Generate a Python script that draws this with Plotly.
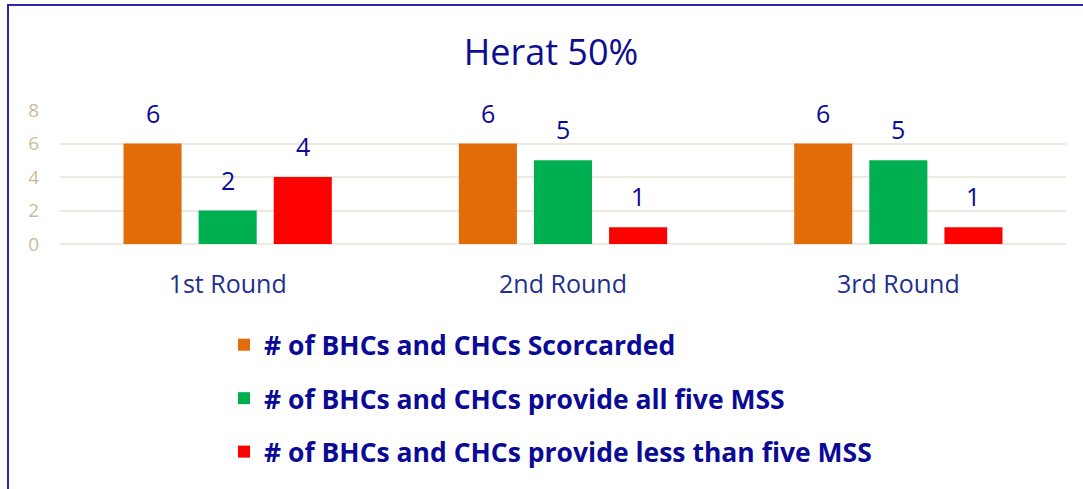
import plotly.graph_objects as go

categories = ["1st Round", "2nd Round", "3rd Round"]
series_names = [
    "# of BHCs and CHCs Scorcarded",
    "# of BHCs and CHCs provide all five MSS",
    "# of BHCs and CHCs provide less than five MSS",
]
scorecarded = [6, 6, 6]
all_five = [2, 5, 5]
less_than_five = [4, 1, 1]
series_values = [scorecarded, all_five, less_than_five]
series_colors = ["#E36C0A", "#00B050", "#FF0000"]
y_ticks = [0, 2, 4, 6, 8]

NAVY = "#0a0a96"
FONT = "Open Sans"

fig = go.Figure()
for i, (name, vals, col) in enumerate(zip(series_names, series_values, series_colors)):
    fig.add_trace(go.Bar(
        x=categories, y=vals, name=name, marker=dict(color=col, line=dict(width=0)),
        legendgroup=f"g{i}", hoverinfo="skip",
    ))

# data labels placed on the bars' positions
slot_px = 75
for i, vals in enumerate(series_values):
    for c, v in zip(categories, vals):
        fig.add_annotation(x=c, y=v, text=str(v), showarrow=False, xref="x", yref="y",
                           xshift=(i - 1) * slot_px, yshift=31, yanchor="middle",
                           font=dict(family=FONT, size=25, color=NAVY))

fig.update_layout(
    width=1083, height=489,
    paper_bgcolor="white", plot_bgcolor="white",
    margin=dict(l=60, r=17, t=110, b=245, autoexpand=False),
    barmode="group", bargap=0.328, bargroupgap=0.227,
    title=dict(text="Herat 50%", x=551 / 1083, xanchor="center",
               xref="container", y=1 - 52 / 489, yanchor="middle",
               font=dict(family=FONT, size=36, color="#0d0d8f")),
    xaxis=dict(showgrid=False, showline=False, ticks="", ticklabelstandoff=23, tickangle=0,
               tickfont=dict(family=FONT, size=25, color="#1f2f8f")),
    yaxis=dict(range=[0, 8], tickvals=y_ticks, showgrid=True, gridcolor="#ece9de", gridwidth=1.5,
               zeroline=True, zerolinecolor="#ece9de", zerolinewidth=1.5, showline=False,
               ticks="", ticklabelstandoff=20,
               tickfont=dict(family=FONT, size=19, color="#c9bd99")),
    showlegend=True,
    legend=dict(orientation="v", xref="container", yref="container", x=224 / 1083, xanchor="left",
                y=1 - 321 / 489, yanchor="top", traceorder="grouped", tracegroupgap=16,
                font=dict(family=FONT, size=26.5, color=NAVY, weight="bold"), bgcolor="rgba(0,0,0,0)"),
    shapes=[dict(type="rect", xref="paper", yref="paper",
                 x0=(8 - 60) / 1006, x1=1.2, y0=-3, y1=(244 - 5) / 134,
                 line=dict(color="#2a2aa8", width=2), layer="below")],
)

fig.write_html("out.html", config={"displayModeBar": False},
               post_script="document.body.style.margin='0px';")
